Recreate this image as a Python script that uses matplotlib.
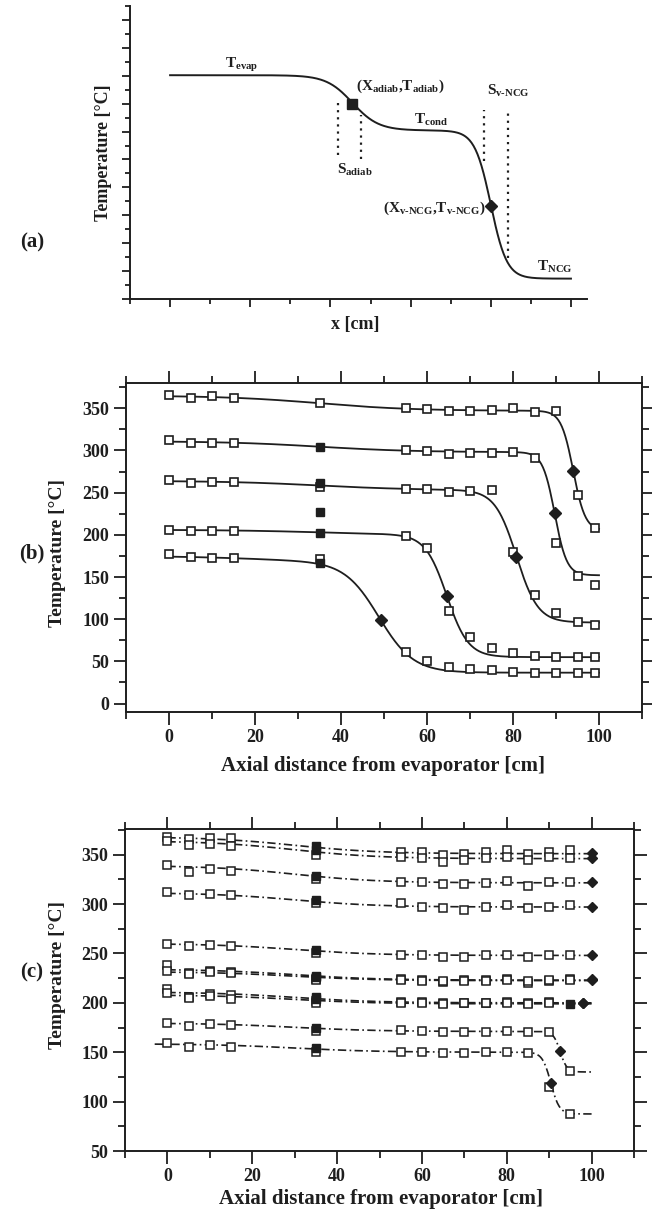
import numpy as np
import matplotlib
matplotlib.use("Agg")
import matplotlib.pyplot as plt
from matplotlib.ticker import MultipleLocator, NullFormatter

plt.rcParams['font.family'] = ['Liberation Serif', 'DejaVu Serif']
plt.rcParams['font.weight'] = 'bold'
plt.rcParams['mathtext.fontset'] = 'custom'
plt.rcParams['mathtext.rm'] = 'Liberation Serif:bold'
plt.rcParams['mathtext.bf'] = 'Liberation Serif:bold'
plt.rcParams['mathtext.it'] = 'Liberation Serif:bold'

INK = '#1e1e1e'
nan = np.nan

# ---------------- (a) schematic ----------------
a_T_evap, a_T_cond, a_T_ncg = 8.02, 6.04, 0.73
a_x_adiab, a_w_adiab = 45.5, 6.5
a_x_front, a_w_front = 80.0, 4.0
a_pt_adiab = (45.5, 7.0)
a_pt_vncg = (80.0, 3.35)
a_dot_x = [42.0, 47.5, 78.2, 84.3]
a_dot_lo = [5.17, 5.0, 4.93, 1.46]
a_dot_hi = [7.1, 6.6, 6.79, 6.79]

# ---------------- (b) measured + fitted profiles ----------------
b_x = [0, 5, 10, 15, 35, 55, 60, 65, 70, 75, 80, 85, 90, 95, 99]
b_open = [
    [366, 362, 364, 362, 356, 350, 349.5, 346.7, 346.7, 348.3, 349.9, 345.5, 346.7, 246.7, 208.4],
    [312, 309, 309, 309, nan, 300, 299.5, 296.3, 297.5, 297, 298.7, 291, 190, 151.3, 140.7],
    [264.8, 261.6, 262.4, 262.1, 256.9, 254, 254, 251, 252, 253, 179.3, 129.2, 107.6, 96.5, 93.7],
    [205.7, 204.5, 204.8, 204.8, nan, 198.6, 184, 109.5, 78.7, 66.2, 59.5, 56.3, 55.1, 55.1, 55.1],
    [177, 173.4, 172.2, 172.2, 171.8, 61, 50.4, 43.7, 40.5, 39.4, 37.8, 36.6, 36.6, 36.6, 36],
]
b_fill_x = [35, 35, 35, 35, 35]
b_fill_T = [304, 261.6, 226.6, 202.5, 166.3]
b_diam_x = [94, 89.7, 80.8, 64.6, 49.4]
b_diam_T = [275.8, 225.4, 174.1, 127, 98.8]
# fitted sigmoid parameters
b_T_evap = [365, 311, 264, 206, 175]
b_T_cond = [347, 298, 253, 200, 168]
b_T_ncg = [205, 152, 96, 55, 36.6]
b_x_adiab = [35, 35, 35, 35, 20]
b_w_adiab = [22, 22, 22, 22, 20]
b_x_front = [94, 89.7, 80.8, 64.6, 48.8]
b_w_front = [2.8, 2.8, 5, 5, 8]

# ---------------- (c) profiles ----------------
c_x = [0, 5, 10, 15, 35, 55, 60, 65, 70, 75, 80, 85, 90, 95]
c_open = [
    [368, 366, 367, 366.5, nan, 353, 353, 349.5, 351, 353, 354.5, 351, 353, 354.5],
    [364, 360, 360.5, 359, 350, 348, 347, 343, 345, 347, 348, 345, 348, 347],
    [339.5, 332.7, 335.4, 333.7, 325, 322.6, 322.6, 320, 320, 321, 323.6, 318.5, 322.6, 322.6],
    [312, 309, 310, 309, 301, 301, 297, 295.6, 294, 297, 299, 295.6, 297.3, 299],
    [260, 257.5, 259, 258, 250, 248.4, 248.4, 246.7, 246.7, 248.4, 248.4, 246.7, 248.4, 248.4],
    [238, 230, 232, 231, 224, 224, 223, 221.4, 223, 223, 224, 220.4, 222, 224],
    [232, 229, 231, 230, 223, 223, 222, 222, 222, 222, 223, 222, 223, 223],
    [214, 206, 209, 208, 202, 201, 200.5, 199.5, 200, 200, 201, 199.5, 201, nan],
    [209.5, 205, 207, 204, 200, 200, 200, 199, 199.5, 199.5, 200, 199, 200, nan],
    [180, 176.5, 179, 177.5, 171.5, 172.5, 171.8, 170.1, 170.1, 170.7, 171.8, 170.1, 170.7, 131.3],
    [159, 155.6, 157.3, 155.6, 150.5, 150.5, 150.5, 149.5, 149.5, 150.5, 150.2, 148.9, 114.5, 87.4],
]
c_fill35 = [359, 355, 328, 304, 253, 227.5, 226, 205.5, 204, 174.8, 153.9]
c_fill_extra = (95, 198.5)
c_diam_x = [100, 100, 100, 100, 100, 100, 100, 98, 98, 92.6, 90.4]
c_diam_T = [351.3, 346.3, 322.6, 297.3, 248.4, 224, 223.5, 200, 200, 151.5, 119.1]
c_T_evap = [368, 364, 339, 311.5, 260, 234, 231.5, 211, 208, 179.5, 158.5]
c_T_cond = [351, 346, 321.5, 297, 248, 223, 222.5, 200, 199, 171, 150]
c_T_ncg = [351, 346, 321.5, 297, 248, 223, 222.5, 200, 199, 130, 87.5]
c_x_front = [100, 100, 100, 100, 100, 100, 100, 100, 100, 92.6, 90.4]
c_w_front = [2, 2, 2, 2, 2, 2, 2, 2, 2, 1.6, 2.0]
c_x_start = [0, 0, 0, 0, 0, 0, 0, 0, 0, 0, -3]


def profile(x, t_ev, t_cd, t_ncg, x_ad, w_ad, x_f, w_f):
    s_ad = 0.5 * (1 - np.tanh((x - x_ad) / w_ad))
    s_f = 0.5 * (1 - np.tanh((x - x_f) / w_f))
    return t_ncg + (t_cd - t_ncg) * s_f + (t_ev - t_cd) * s_ad


W, H = 652, 1222
fig = plt.figure(figsize=(W / 100, H / 100), dpi=100)


def box(l, t, r, b):
    return [l / W, 1 - b / H, (r - l) / W, (b - t) / H]


def ftext(x, y, s, **kw):
    fig.text(x / W, 1 - y / H, s, ha='center', va='center', color=INK, **kw)


# ---- (a)
ax = fig.add_axes(box(130, 6, 587, 299))
xx = np.linspace(0, 100, 400)
ax.plot(xx, profile(xx, a_T_evap, a_T_cond, a_T_ncg, a_x_adiab, a_w_adiab, a_x_front, a_w_front),
        color=INK, lw=1.4)
ax.plot(*a_pt_adiab, 's', color=INK, ms=7)
ax.plot(*a_pt_vncg, 'D', color=INK, ms=6.5)
for xd, y0, y1 in zip(a_dot_x, a_dot_lo, a_dot_hi):
    ax.plot([xd, xd], [y0, y1], ls=(0, (1, 2.2)), color=INK, lw=1.6)
ax.set_xlim(-10, 104)
ax.set_ylim(0, 10.5)
for s in ['top', 'right']:
    ax.spines[s].set_visible(False)
for s in ['left', 'bottom']:
    ax.spines[s].set_linewidth(1.4)
    ax.spines[s].set_color(INK)
ax.xaxis.set_major_locator(MultipleLocator(20))
ax.xaxis.set_minor_locator(MultipleLocator(10))
ax.yaxis.set_major_locator(MultipleLocator(1))
ax.yaxis.set_minor_locator(MultipleLocator(0.5))
ax.tick_params(which='both', direction='out', labelbottom=False, labelleft=False,
               color=INK, width=1.3)
ax.tick_params(which='major', length=6)
ax.tick_params(which='minor', length=3.5)
fs_a = 11
ax.text(17.8, 8.38, r'T$_{\mathrm{evap}}$', ha='center', va='center', fontsize=fs_a, color=INK)
ax.text(46.5, 7.63, r'(X$_{\mathrm{adiab}}$,T$_{\mathrm{adiab}}$)', ha='left', va='center',
        fontsize=fs_a, color=INK)
ax.text(65.1, 6.42, r'T$_{\mathrm{cond}}$', ha='center', va='center', fontsize=fs_a, color=INK)
ax.text(84.3, 7.45, r'S$_{\mathrm{v}\text{-}\mathrm{NCG}}$', ha='center', va='center',
        fontsize=fs_a, color=INK)
ax.text(46.2, 4.62, r'S$_{\mathrm{adiab}}$', ha='center', va='center', fontsize=fs_a, color=INK)
ax.text(78.6, 3.25, r'(X$_{\mathrm{v}\text{-}\mathrm{NCG}}$,T$_{\mathrm{v}\text{-}\mathrm{NCG}}$)',
        ha='right', va='center', fontsize=fs_a, color=INK)
ax.text(96.0, 1.15, r'T$_{\mathrm{NCG}}$', ha='center', va='center', fontsize=fs_a, color=INK)

ftext(32, 242, '(a)', fontsize=15, fontweight='bold')
ftext(103, 153, 'Temperature [°C]', fontsize=13, fontweight='bold', rotation=90)
ftext(355, 325, 'x [cm]', fontsize=13, fontweight='bold')


def frame(ax, ymajor, yminor):
    for s in ax.spines.values():
        s.set_linewidth(1.4)
        s.set_color(INK)
    ax.xaxis.set_major_locator(MultipleLocator(20))
    ax.xaxis.set_minor_locator(MultipleLocator(10))
    ax.yaxis.set_major_locator(MultipleLocator(ymajor))
    ax.yaxis.set_minor_locator(MultipleLocator(yminor))
    ax.tick_params(which='both', direction='out', top=True, right=True,
                   color=INK, width=1.3, labelsize=13, labelcolor=INK)
    ax.tick_params(which='major', length=9, pad=3)
    ax.tick_params(which='minor', length=5)
    for lab in ax.get_xticklabels() + ax.get_yticklabels():
        lab.set_fontweight('bold')


# ---- (b)
ax = fig.add_axes(box(126, 383, 642, 712))
xx = np.linspace(0, 100, 500)
for i in range(len(b_open)):
    ax.plot(xx, profile(xx, b_T_evap[i], b_T_cond[i], b_T_ncg[i], b_x_adiab[i], b_w_adiab[i],
                        b_x_front[i], b_w_front[i]), color=INK, lw=1.3, zorder=2)
    ax.plot(b_x, b_open[i], 's', ls='none', mfc='white', mec=INK, mew=1.2, ms=6, zorder=3)
ax.plot(b_fill_x, b_fill_T, 's', ls='none', color=INK, ms=6, zorder=4)
ax.plot(b_diam_x, b_diam_T, 'D', ls='none', color=INK, ms=6, zorder=4)
ax.set_xlim(-10, 110)
ax.set_ylim(-10, 380)
frame(ax, 50, 25)
ax.set_xticks([0, 20, 40, 60, 80, 100])
for lab in ax.get_xticklabels() + ax.get_yticklabels():
    lab.set_fontweight('bold')

ftext(32, 553, '(b)', fontsize=15, fontweight='bold')
ftext(57, 553, 'Temperature [°C]', fontsize=14, fontweight='bold', rotation=90)
ftext(383, 766, 'Axial distance from evaporator [cm]', fontsize=15, fontweight='bold')

# ---- (c)
ax = fig.add_axes(box(125, 829, 634, 1151))
dd = (0, (5, 2, 1, 2))
for i in range(len(c_open)):
    xx = np.linspace(c_x_start[i], 100, 500)
    ax.plot(xx, profile(xx, c_T_evap[i], c_T_cond[i], c_T_ncg[i], 30, 20,
                        c_x_front[i], c_w_front[i]), color=INK, lw=1.2, ls=dd, zorder=2)
    ax.plot(c_x, c_open[i], 's', ls='none', mfc='white', mec=INK, mew=1.1, ms=5.5, zorder=3)
ax.plot([35] * len(c_fill35), c_fill35, 's', ls='none', color=INK, ms=5.5, zorder=4)
ax.plot(*c_fill_extra, 's', color=INK, ms=5.5, zorder=4)
ax.plot(c_diam_x, c_diam_T, 'D', ls='none', color=INK, ms=5.5, zorder=4)
ax.set_xlim(-10, 110)
ax.set_ylim(50, 376)
frame(ax, 50, 25)
ax.set_xticks([0, 20, 40, 60, 80, 100])
ax.set_yticks([50, 100, 150, 200, 250, 300, 350])
for lab in ax.get_xticklabels() + ax.get_yticklabels():
    lab.set_fontweight('bold')

ftext(32, 972, '(c)', fontsize=15, fontweight='bold')
ftext(57, 975, 'Temperature [°C]', fontsize=14, fontweight='bold', rotation=90)
ftext(381, 1199, 'Axial distance from evaporator [cm]', fontsize=15, fontweight='bold')

fig.savefig('out.png', dpi=100)
